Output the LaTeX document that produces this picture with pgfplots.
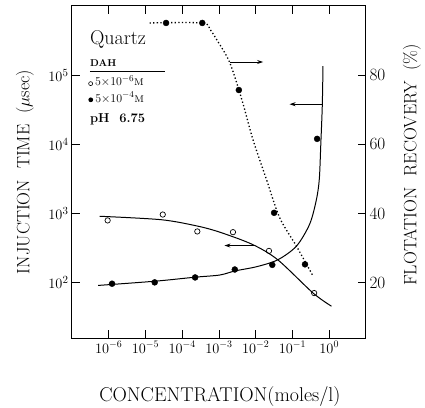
\documentclass[border=0pt]{standalone}
\usepackage{pgfplots}
\pgfplotsset{compat=1.18}
\usetikzlibrary{arrows.meta}
\begin{document}
\begin{tikzpicture}
\useasboundingbox (-72bp,-70bp) rectangle (353bp,338bp);
\begin{axis}[
  at={(0,0)}, anchor=south west,
  scale only axis, width=294bp, height=332bp,
  xmode=log, ymode=log,
  xmin=1e-7, xmax=10, ymin=15.85, ymax=1e6,
  xtick={1e-6,1e-5,1e-4,1e-3,1e-2,1e-1,1},
  ytick={100,1000,10000,100000},
  xminorticks=false, yminorticks=false,
  tick align=inside,
  major tick length=8bp,
  tick style={line width=0.8pt, black},
  axis line style={line width=1pt},
  xticklabel style={font=\fontsize{14}{16}\selectfont},
  yticklabel style={font=\fontsize{15}{17}\selectfont},
  clip=false,
]
% injection time, 5e-6 M (open circles)
\addplot[only marks, mark=o, mark size=2.7pt, mark options={line width=0.7pt}] coordinates {
 (9.33e-7,794) (2.95e-5,966) (2.57e-4,550) (2.40e-3,537) (2.29e-2,288) (0.389,70.8)};
\addplot[smooth, tension=0.5, line width=1pt] coordinates {
 (5.62e-7,912) (2.69e-5,813) (2.69e-4,655) (1.12e-3,531) (8.32e-3,355) (3.98e-2,214) (0.363,70.8) (1.148,45.7)};
% injection time, 5e-4 M (filled circles)
\addplot[only marks, mark=*, mark size=3pt] coordinates {
 (1.23e-6,96.6) (1.78e-5,101) (2.24e-4,119) (2.69e-3,155) (2.82e-2,181) (0.468,12000)};
\addplot[smooth, tension=0.5, line width=1pt] coordinates {
 (5.13e-7,91.2) (1.82e-5,105) (2.24e-4,120) (1.05e-3,129) (2.75e-3,148) (1.05e-2,170) (3.98e-2,214) (0.129,339) (0.295,708) (0.447,1585) (0.537,3162) (0.589,10000) (0.646,35500) (0.676,135000)};
% arrows
\draw[-{Stealth[length=6pt,width=4pt]}, line width=0.8pt] (axis cs:2.04e-3,1.55e5) -- (axis cs:1.58e-2,1.55e5);
\draw[-{Stealth[length=6pt,width=4pt]}, line width=0.8pt] (axis cs:0.617,3.8e4) -- (axis cs:0.0832,3.8e4);
\draw[-{Stealth[length=6pt,width=4pt]}, line width=0.8pt] (axis cs:9.33e-3,344) -- (axis cs:1.41e-3,344);
% annotations
\node[anchor=west, inner sep=0pt, font=\fontsize{20}{22}\selectfont] at (rel axis cs:0.061,0.90) {Quartz};
\node[anchor=west, inner sep=0pt, font=\fontsize{10}{12}\selectfont\bfseries] at (rel axis cs:0.061,0.828) {DAH};
\draw[line width=0.8pt] (rel axis cs:0.061,0.804) -- (rel axis cs:0.316,0.804);
\node[anchor=west, inner sep=0pt, font=\fontsize{13}{15}\selectfont] at (rel axis cs:0.055,0.773) {\tikz\draw[line width=0.6pt] (0,0) circle (2pt);\,$5{\times}10^{-6}$\textsc{m}};
\node[anchor=west, inner sep=0pt, font=\fontsize{13}{15}\selectfont] at (rel axis cs:0.055,0.724) {\tikz\fill (0,0) circle (2.4pt);\,$5{\times}10^{-4}$\textsc{m}};
\node[anchor=west, inner sep=0pt, font=\fontsize{13}{15}\selectfont\bfseries] at (rel axis cs:0.061,0.66) {pH\ \ 6.75};
% axis labels
\node[rotate=90, font=\fontsize{18}{20}\selectfont] at ([xshift=-47bp]rel axis cs:0,0.5) {INJUCTION\ \ TIME\ \ ($\mu$sec)};
\node[font=\fontsize{20}{22}\selectfont] at ([yshift=-59bp]rel axis cs:0.503,0) {CONCENTRATION(moles/l)};
\end{axis}
\begin{axis}[
  at={(0,0)}, anchor=south west,
  scale only axis, width=294bp, height=332bp,
  xmode=log, xmin=1e-7, xmax=10, ymin=4, ymax=100,
  axis x line=none, axis y line*=right,
  ytick={20,40,60,80},
  tick align=inside,
  major tick length=8bp,
  tick style={line width=0.8pt, black},
  axis line style={line width=1pt},
  ticklabel style={font=\fontsize{16}{18}\selectfont},
  clip=false,
]
\addplot[only marks, mark=*, mark size=3pt] coordinates {
 (3.63e-5,95.1) (3.51e-4,95.1) (3.47e-3,75.7) (3.16e-2,40.2) (0.219,25.3)};
\addplot[smooth, tension=0.5, line width=1.3pt, dash pattern=on 1.3pt off 2.3pt] coordinates {
 (1.29e-5,95.1) (3.51e-4,95.1) (5.62e-4,93.3) (8.51e-4,90.4) (1.95e-3,83.7) (4.27e-3,72.6) (8.32e-3,61.5) (1.95e-2,49.9) (4.47e-2,38.8) (0.129,30.5) (0.347,22.3)};
\node[rotate=90, font=\fontsize{18}{20}\selectfont] at ([xshift=46bp]rel axis cs:1,0.521) {FLOTATION\ \ RECOVERY\ \ (\%)};
\end{axis}
\end{tikzpicture}
\end{document}
